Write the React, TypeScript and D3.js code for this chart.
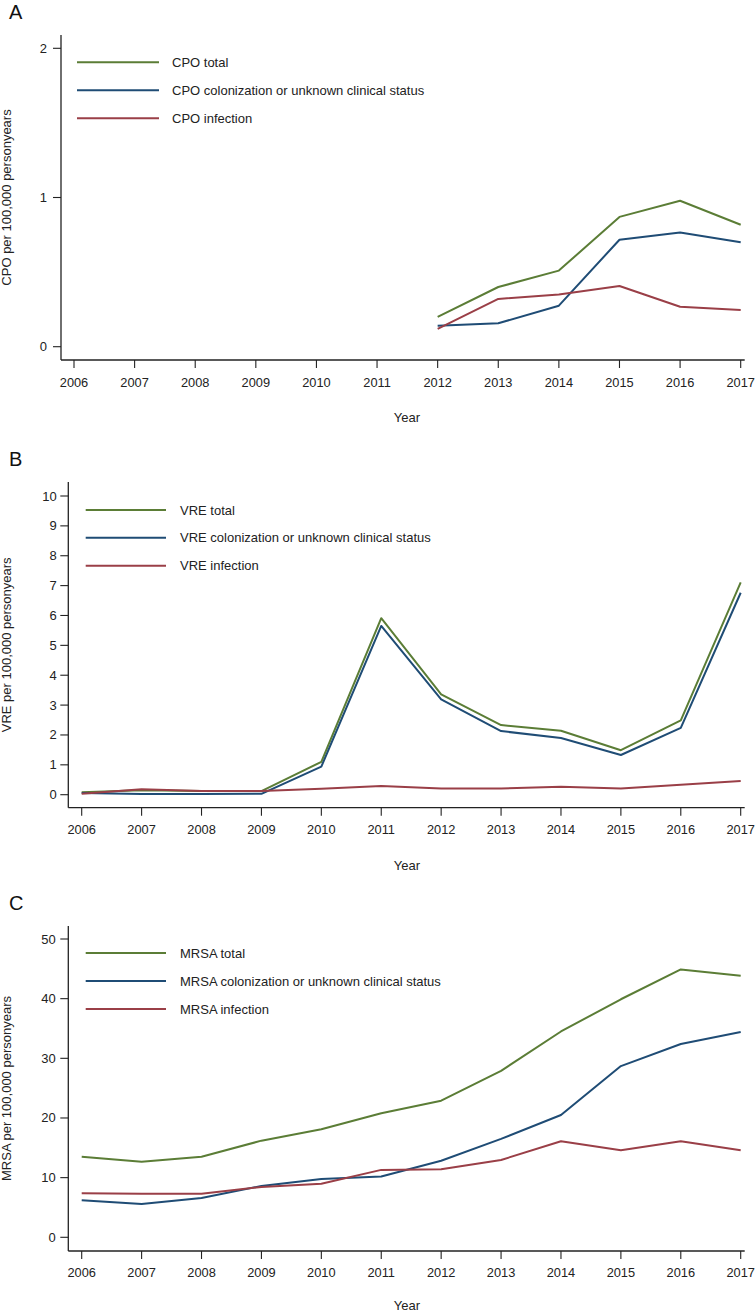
import React from "react";
import * as d3 from "d3";

const years = [2006, 2007, 2008, 2009, 2010, 2011, 2012, 2013, 2014, 2015, 2016, 2017];

// Panel A: CPO (data only from 2012)
const cpoYears = [2012, 2013, 2014, 2015, 2016, 2017];
const cpoTotal = [0.2, 0.4, 0.51, 0.87, 0.978, 0.817];
const cpoColon = [0.14, 0.157, 0.275, 0.717, 0.766, 0.7];
const cpoInfect = [0.12, 0.32, 0.35, 0.407, 0.268, 0.246];
const cpoTicks = [0, 1, 2];

// Panel B: VRE
const vreTotal = [0.08, 0.15, 0.12, 0.12, 1.1, 5.91, 3.36, 2.33, 2.14, 1.49, 2.49, 7.11];
const vreColon = [0.06, 0.02, 0.02, 0.03, 0.94, 5.65, 3.19, 2.13, 1.9, 1.33, 2.24, 6.76];
const vreInfect = [0.03, 0.18, 0.12, 0.12, 0.2, 0.29, 0.21, 0.21, 0.27, 0.21, 0.33, 0.46];
const vreTicks = [0, 1, 2, 3, 4, 5, 6, 7, 8, 9, 10];

// Panel C: MRSA
const mrsaTotal = [13.5, 12.67, 13.5, 16.2, 18.1, 20.8, 22.9, 27.9, 34.5, 39.9, 44.9, 43.85];
const mrsaColon = [6.2, 5.58, 6.59, 8.6, 9.77, 10.2, 12.84, 16.5, 20.5, 28.7, 32.4, 34.4];
const mrsaInfect = [7.37, 7.3, 7.3, 8.43, 8.99, 11.3, 11.4, 12.96, 16.1, 14.6, 16.1, 14.6];
const mrsaTicks = [0, 10, 20, 30, 40, 50];

const GREEN = "#5b7d36";
const BLUE = "#1f4c75";
const RED = "#9a3f47";
const FONT = "Liberation Sans, Arial, sans-serif";

type Series = { label: string; color: string; xs: number[]; ys: number[] };

type PanelProps = {
  letter: string;
  letterY: number;
  axisX: number;
  axisTop: number;
  axisBottom: number;
  y0: number;
  yMax: number;
  yMaxPx: number;
  x0: number;
  x1: number;
  ticks: number[];
  ylabel: string;
  ylabelX: number;
  series: Series[];
  legendY: number[];
  legendX0: number;
  legendX1: number;
  legendTextX: number;
  tickLabelY: number;
  yearY: number;
  labelGap: number;
};

function Panel(p: PanelProps) {
  const x = d3.scaleLinear().domain([2006, 2017]).range([p.x0, p.x1]);
  const y = d3.scaleLinear().domain([0, p.yMax]).range([p.y0, p.yMaxPx]);
  const line = d3
    .line<[number, number]>()
    .x((d) => x(d[0]))
    .y((d) => y(d[1]));
  const yMid = (p.axisTop + p.axisBottom) / 2;
  return (
    <g fontFamily={FONT} fill="#222">
      <text x={9} y={p.letterY} fontSize={20} fontFamily={FONT} fill="#111">
        {p.letter}
      </text>
      {/* axes */}
      <line x1={p.axisX} x2={p.axisX} y1={p.axisTop} y2={p.axisBottom} stroke="#222" strokeWidth={1.3} />
      <line x1={p.axisX} x2={p.x1 + 4} y1={p.axisBottom} y2={p.axisBottom} stroke="#222" strokeWidth={1.3} />
      {p.ticks.map((t) => (
        <g key={t}>
          <line x1={p.axisX - 8} x2={p.axisX} y1={y(t)} y2={y(t)} stroke="#222" strokeWidth={1.1} />
          <text x={p.axisX - p.labelGap} y={y(t) + 4.5} fontSize={13} textAnchor="end">
            {t}
          </text>
        </g>
      ))}
      {years.map((yr) => (
        <g key={yr}>
          <line x1={x(yr)} x2={x(yr)} y1={p.axisBottom} y2={p.axisBottom + 8} stroke="#222" strokeWidth={1.1} />
          <text x={x(yr)} y={p.tickLabelY} fontSize={12.8} textAnchor="middle">
            {yr}
          </text>
        </g>
      ))}
      <text x={407} y={p.yearY} fontSize={13} textAnchor="middle">
        Year
      </text>
      <text
        transform={`translate(${p.ylabelX},${yMid}) rotate(-90)`}
        fontSize={13}
        textAnchor="middle"
      >
        {p.ylabel}
      </text>
      {p.series.map((s, i) => (
        <g key={s.label}>
          <path
            d={line(s.xs.map((xx, j) => [xx, s.ys[j]] as [number, number])) || ""}
            fill="none"
            stroke={s.color}
            strokeWidth={2}
            strokeLinejoin="round"
          />
          <line
            x1={p.legendX0}
            x2={p.legendX1}
            y1={p.legendY[i]}
            y2={p.legendY[i]}
            stroke={s.color}
            strokeWidth={2}
          />
          <text x={p.legendTextX} y={p.legendY[i] + 4.5} fontSize={13}>
            {s.label}
          </text>
        </g>
      ))}
    </g>
  );
}

export default function App() {
  return (
    <svg
      width={755}
      height={1313}
      style={{ position: "absolute", left: 0, top: 0, background: "#fff" }}
    >
      <rect width={755} height={1313} fill="#fff" />
      <Panel
        letter="A"
        letterY={19}
        axisX={61}
        axisTop={35}
        axisBottom={360}
        y0={346.7}
        yMax={2}
        yMaxPx={48.3}
        x0={74}
        x1={740.7}
        ticks={cpoTicks}
        ylabel="CPO per 100,000 personyears"
        ylabelX={10.5}
        series={[
          { label: "CPO total", color: GREEN, xs: cpoYears, ys: cpoTotal },
          { label: "CPO colonization or unknown clinical status", color: BLUE, xs: cpoYears, ys: cpoColon },
          { label: "CPO infection", color: RED, xs: cpoYears, ys: cpoInfect },
        ]}
        legendY={[62.3, 90.3, 118.3]}
        legendX0={77}
        legendX1={159}
        legendTextX={172}
        tickLabelY={386.5}
        yearY={422}
        labelGap={14}
      />
      <Panel
        letter="B"
        letterY={466}
        axisX={68.3}
        axisTop={482}
        axisBottom={807.7}
        y0={794.7}
        yMax={10}
        yMaxPx={496}
        x0={81.7}
        x1={740.7}
        ticks={vreTicks}
        ylabel="VRE per 100,000 personyears"
        ylabelX={10.5}
        series={[
          { label: "VRE total", color: GREEN, xs: years, ys: vreTotal },
          { label: "VRE colonization or unknown clinical status", color: BLUE, xs: years, ys: vreColon },
          { label: "VRE infection", color: RED, xs: years, ys: vreInfect },
        ]}
        legendY={[510, 537.7, 565.7]}
        legendX0={85.7}
        legendX1={166}
        legendTextX={180}
        tickLabelY={834}
        yearY={869.5}
        labelGap={11.5}
      />
      <Panel
        letter="C"
        letterY={910}
        axisX={68.3}
        axisTop={926}
        axisBottom={1251}
        y0={1237.3}
        yMax={50}
        yMaxPx={939}
        x0={81.7}
        x1={740.7}
        ticks={mrsaTicks}
        ylabel="MRSA per 100,000 personyears"
        ylabelX={10.5}
        series={[
          { label: "MRSA total", color: GREEN, xs: years, ys: mrsaTotal },
          { label: "MRSA colonization or unknown clinical status", color: BLUE, xs: years, ys: mrsaColon },
          { label: "MRSA infection", color: RED, xs: years, ys: mrsaInfect },
        ]}
        legendY={[953, 981, 1009]}
        legendX0={85.7}
        legendX1={166}
        legendTextX={180}
        tickLabelY={1277}
        yearY={1310}
        labelGap={12.5}
      />
    </svg>
  );
}
